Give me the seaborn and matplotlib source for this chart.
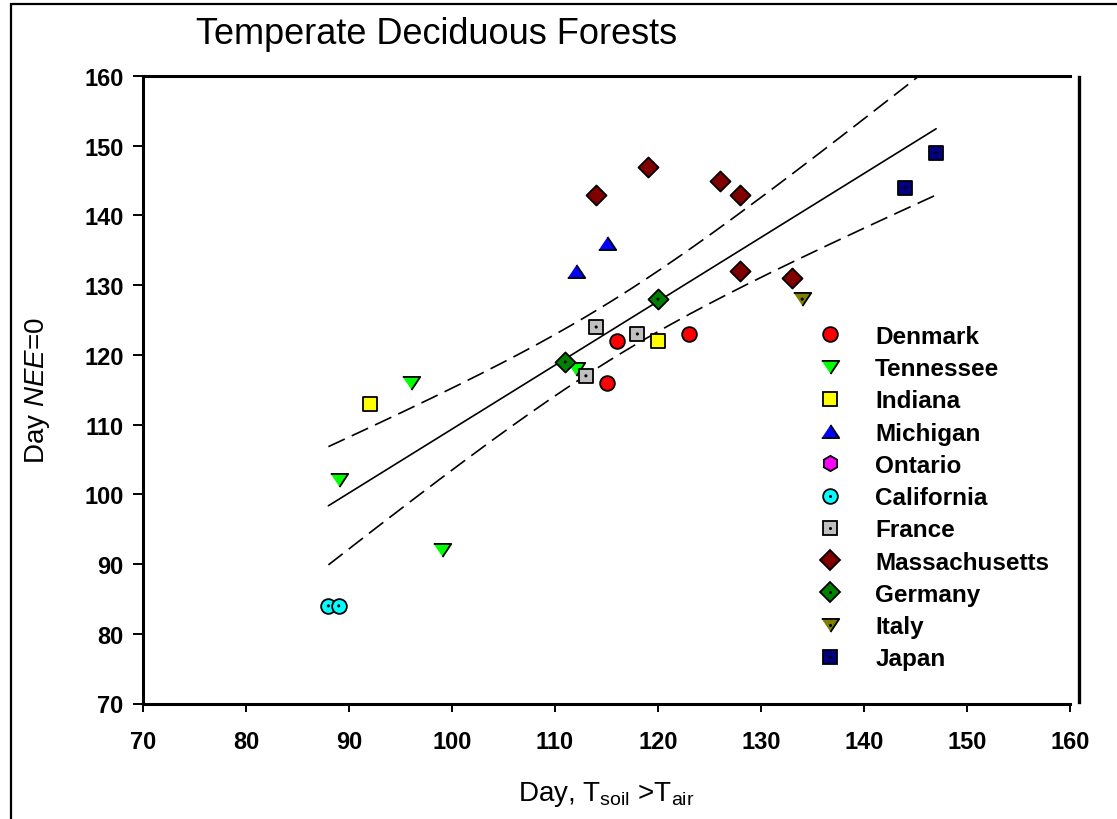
import numpy as np
import pandas as pd
import matplotlib
matplotlib.use("Agg")
import matplotlib.pyplot as plt
import seaborn as sns
from matplotlib.lines import Line2D
from matplotlib.patches import Rectangle

# ---------------- data ----------------
sites = ["Denmark", "Tennessee", "Indiana", "Michigan", "Ontario", "California",
         "France", "Massachusetts", "Germany", "Italy", "Japan"]

denmark_x = [116, 123, 115]
denmark_y = [122, 123, 116]
tennessee_x = [96, 89, 99, 112]
tennessee_y = [116, 102, 92, 118]
indiana_x = [92, 120]
indiana_y = [113, 122]
michigan_x = [112, 115]
michigan_y = [132, 136]
ontario_x = []
ontario_y = []
california_x = [88, 89]
california_y = [84, 84]
france_x = [114, 118, 113]
france_y = [124, 123, 117]
massachusetts_x = [114, 119, 126, 128, 128, 133]
massachusetts_y = [143, 147, 145, 143, 132, 131]
germany_x = [111, 120]
germany_y = [119, 128]
italy_x = [134]
italy_y = [128]
japan_x = [147, 144]
japan_y = [149, 144]

site_x = [denmark_x, tennessee_x, indiana_x, michigan_x, ontario_x, california_x,
          france_x, massachusetts_x, germany_x, italy_x, japan_x]
site_y = [denmark_y, tennessee_y, indiana_y, michigan_y, ontario_y, california_y,
          france_y, massachusetts_y, germany_y, italy_y, japan_y]

x_ticks = [70, 80, 90, 100, 110, 120, 130, 140, 150, 160]
y_ticks = [70, 80, 90, 100, 110, 120, 130, 140, 150, 160]

T95_DF25 = 2.060  # Student t quantile used for the 95% confidence band

# ---------------- style ----------------
sns.set_theme(style="white")
plt.rcParams["font.family"] = ["Liberation Sans", "DejaVu Sans"]
plt.rcParams["mathtext.fontset"] = "custom"
plt.rcParams["mathtext.rm"] = "Liberation Sans"
plt.rcParams["mathtext.it"] = "Liberation Sans:italic"
plt.rcParams["mathtext.bf"] = "Liberation Sans:bold"
plt.rcParams["lines.scale_dashes"] = False
for key in ["text.color", "axes.labelcolor", "xtick.color", "ytick.color",
            "axes.edgecolor"]:
    plt.rcParams[key] = "black"

tri_down = [(-1, 0.75), (1, 0.75), (0, -0.75)]
tri_up = [(-1, -0.75), (1, -0.75), (0, 0.75)]

colors = {"Denmark": "#FF0000", "Tennessee": "#00FF00", "Indiana": "#FFFF00",
          "Michigan": "#0000FF", "Ontario": "#FF00FF", "California": "#00FFFF",
          "France": "#C0C0C0", "Massachusetts": "#800000", "Germany": "#008000",
          "Italy": "#808000", "Japan": "#000080"}
markers = {"Denmark": "o", "Tennessee": tri_down, "Indiana": "s", "Michigan": tri_up,
           "Ontario": "h", "California": "o", "France": "s", "Massachusetts": "D",
           "Germany": "D", "Italy": tri_down, "Japan": "s"}
msize = {"Denmark": 10.6, "Tennessee": 12.6, "Indiana": 10.4, "Michigan": 12.6,
         "Ontario": 11.0, "California": 10.6, "France": 10.4, "Massachusetts": 10.2,
         "Germany": 10.2, "Italy": 12.6, "Japan": 10.4}
dotted = {"California", "France", "Germany", "Italy", "Japan"}

fig = plt.figure(figsize=(11.17, 8.2), dpi=100)
ax = fig.add_axes([143 / 1117, 1 - 704.5 / 820, 927 / 1117, 627.5 / 820])

# right spine offset (set first: repositioning resets the y ticks)
ax.spines["right"].set_position(("axes", 1.01))
ax.spines["right"].set_bounds(70.2, 159.8)
ax.spines["right"].set_linewidth(2.4)
ax.spines["right"].set_color("black")

# ---------------- regression + 95% CI ----------------
all_x = np.array([v for xs in site_x for v in xs], dtype=float)
all_y = np.array([v for ys in site_y for v in ys], dtype=float)
n = len(all_x)
slope, intercept = np.polyfit(all_x, all_y, 1)
resid = all_y - (slope * all_x + intercept)
s_err = np.sqrt(np.sum(resid ** 2) / (n - 2))
xm = all_x.mean()
sxx = np.sum((all_x - xm) ** 2)
xs = np.linspace(all_x.min(), all_x.max(), 200)
yhat = slope * xs + intercept
half = T95_DF25 * s_err * np.sqrt(1.0 / n + (xs - xm) ** 2 / sxx)

sns.lineplot(x=xs, y=yhat, ax=ax, color="black", lw=1.2, zorder=2)
sns.lineplot(x=xs, y=yhat + half, ax=ax, color="black", lw=1.2,
             linestyle=(0, (13, 5.5)), zorder=2)
sns.lineplot(x=xs, y=yhat - half, ax=ax, color="black", lw=1.2,
             linestyle=(0, (13, 5.5)), zorder=2)

# ---------------- scatter ----------------
for name, xv, yv in zip(sites, site_x, site_y):
    if len(xv) == 0:
        continue
    sns.scatterplot(x=xv, y=yv, ax=ax, marker=markers[name], color=colors[name],
                    s=msize[name] ** 2, edgecolor="black", linewidth=1.3,
                    zorder=3, legend=False)
    if name in dotted:
        sns.scatterplot(x=xv, y=yv, ax=ax, marker="o", color="black", s=5,
                        edgecolor="none", linewidth=0, zorder=4, legend=False)

# ---------------- axes ----------------
ax.set_xlim(70, 160)
ax.set_ylim(70, 160)
ax.set_xticks(x_ticks)
ax.set_yticks(y_ticks)
ax.set_xticklabels([str(t) for t in x_ticks], fontsize=17, fontweight="bold")
ax.set_yticklabels([str(t) for t in y_ticks], fontsize=17, fontweight="bold")
ax.tick_params(axis="y", which="both", direction="out", length=7, width=1.4, pad=7,
               color="black", left=True, right=False, labelright=False)
ax.tick_params(axis="x", direction="out", length=6, width=1.4, pad=13, color="black",
               bottom=True, top=False)
for side in ["left", "bottom", "top"]:
    ax.spines[side].set_linewidth(2.2)
    ax.spines[side].set_color("black")
ax.grid(False)

ax.set_xlabel("Day, T$_{\\mathregular{soil}}$ >T$_{\\mathregular{air}}$", fontsize=20,
              labelpad=19)
ax.set_ylabel("Day $\\mathit{NEE}$=0", fontsize=20)
ax.yaxis.set_label_coords((52 - 143) / 927, 0.5)
fig.text(437 / 1117, 1 - 35 / 820, "Temperate Deciduous Forests", fontsize=26,
         ha="center", va="center")

# ---------------- legend ----------------
handles = []
for name in sites:
    h = Line2D([], [], ls="none", marker=markers[name], markersize=msize[name],
               markerfacecolor=colors[name], markeredgecolor="black",
               markeredgewidth=1.3)
    if name in dotted:
        d = Line2D([], [], ls="none", marker="o", markersize=2.2,
                   markerfacecolor="black", markeredgecolor="none")
        h = (h, d)
    handles.append(h)
leg = ax.legend(handles, sites, loc="upper left",
                bbox_to_anchor=(812 / 1117, 1 - 326 / 820),
                bbox_transform=fig.transFigure, frameon=False,
                prop={"family": "Liberation Sans", "weight": "bold", "size": 17.5},
                handlelength=1.5, handletextpad=1.1, labelspacing=0.38,
                borderpad=0, borderaxespad=0)

# outer frame of the figure
fig.add_artist(Rectangle((11 / 1117, -0.2), 2.0, 1.2 - 5 / 820,
                         transform=fig.transFigure, fill=False, lw=1.6,
                         edgecolor="black"))

fig.savefig("out.png", dpi=100)
